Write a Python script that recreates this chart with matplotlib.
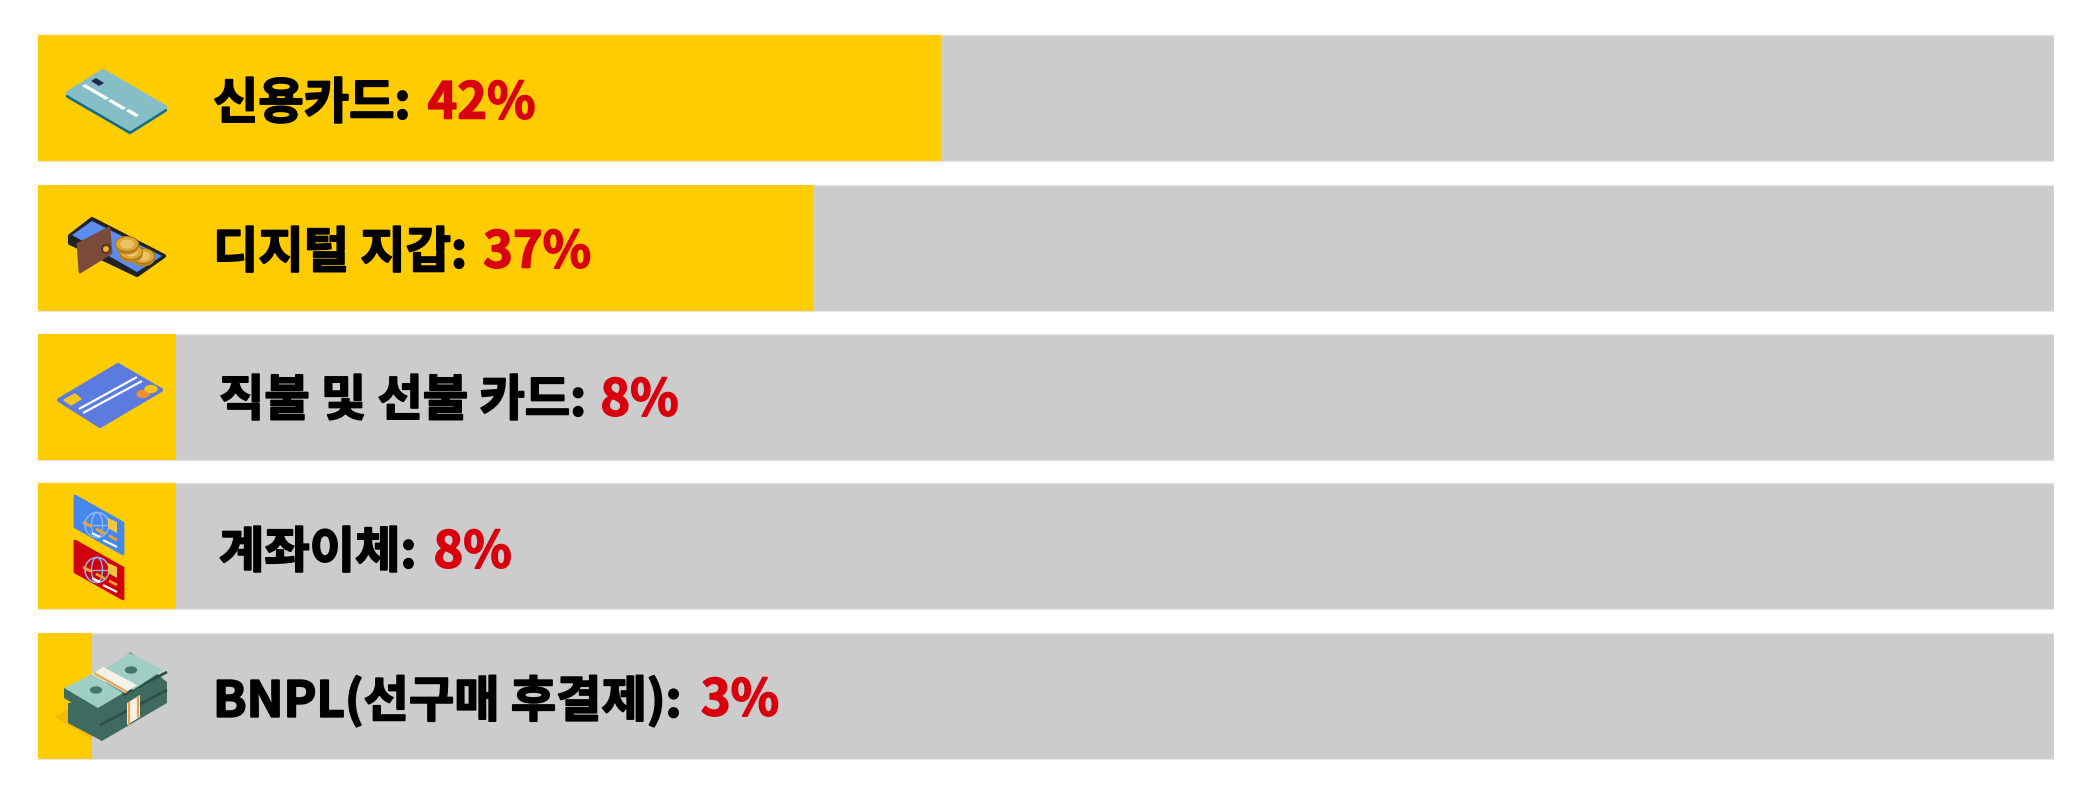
import matplotlib
matplotlib.use("Agg")
import matplotlib.pyplot as plt
import matplotlib.patheffects as pe
from matplotlib.patches import Polygon, Circle, Ellipse

plt.rcParams['font.family'] = ['Noto Sans CJK KR', 'DejaVu Sans']

categories = ["신용카드", "디지털 지갑", "직불 및 선불 카드", "계좌이체", "BNPL(선구매 후결제)"]
shares = [42, 37, 8, 8, 3]
# yellow lengths as drawn, they are not quite proportional to the labels
bar_lengths = [44.8, 38.45, 6.85, 6.85, 2.7]

W, H = 2091, 791
YELLOW = "#ffcc00"
GREY = "#cccccc"
RED = "#d9000d"

fig = plt.figure(figsize=(W / 100, H / 100), dpi=100)

# bars
ax = fig.add_axes([38 / W, 1 - 770.5 / H, (2054 - 38) / W, (770.5 - 23.5) / H])
rows = list(range(len(categories)))
ax.barh(rows, [100] * 5, height=0.843, color=GREY, edgecolor="#e6e6e6", linewidth=1)
ax.barh(rows, bar_lengths, height=0.843, color=YELLOW)
ax.set_xlim(0, 100)
ax.set_ylim(4.5, -0.5)
ax.axis("off")

# overlay in pixels for the labels and the icons
ov = fig.add_axes([0, 0, 1, 1])
ov.set_xlim(0, W)
ov.set_ylim(H, 0)
ov.axis("off")
ov.patch.set_alpha(0)

label_x = [213, 213, 219, 219, 213]
label_y = [104, 253, 401, 553, 701]
value_gap = [17, 16, 14, 17, 19]
renderer = fig.canvas.get_renderer()
for name, val, x, y, gap in zip(categories, shares, label_x, label_y, value_gap):
    t = ov.text(x, y, name + ":", fontsize=35.5, fontweight="bold", color="black",
                ha="left", va="center")
    t.set_path_effects([pe.withStroke(linewidth=1.3, foreground="black")])
    bb = t.get_window_extent(renderer)
    v = ov.text(bb.x1 + gap, y, f"{val}%", fontsize=36.3, fontweight="bold", color=RED,
                ha="left", va="center")
    v.set_path_effects([pe.withStroke(linewidth=1.1, foreground=RED)])


def poly(pts, color, z=3, round_px=0):
    ov.add_patch(Polygon(pts, closed=True, facecolor=color, edgecolor=color if round_px else "none",
                         linewidth=round_px, joinstyle="round", zorder=z))


def line(x0, y0, x1, y1, color, lw=2, z=4, ls="-"):
    ov.plot([x0, x1], [y0, y1], color=color, lw=lw, zorder=z, ls=ls, solid_capstyle="butt")


def coin(cx, cy, z):
    ov.add_patch(Ellipse((cx, cy + 3), 23, 15, facecolor="#b8862a", zorder=z))
    ov.add_patch(Ellipse((cx, cy), 23, 15, facecolor="#dfa92f", edgecolor="#a8741a", lw=0.8, zorder=z))
    ov.add_patch(Ellipse((cx, cy), 14, 9, facecolor="#eac36a", zorder=z))


# credit card
poly([(68, 96), (103, 74), (165, 110), (130, 132)], "#0f6e8c", 3, 3)
poly([(68, 93), (103, 71), (165, 107), (130, 129)], "#86bec8", 3, 3)
poly([(91, 81), (96, 78), (104, 83), (99, 86)], "#1d2a4d", 4)
poly([(82, 86), (85, 84), (109, 98), (106, 100)], "white", 4)
poly([(108, 101), (111, 99), (126, 108), (123, 110)], "white", 4)
poly([(126, 111), (129, 109), (139, 115), (136, 117)], "white", 4)

# wallet and phone
poly([(70, 236), (92, 219), (164, 256), (137, 275), (70, 243)], "#222222", 3, 3)
poly([(72, 235), (92, 221), (162, 256), (137, 272)], "#5b8cf0", 4)
poly([(78, 244), (109, 228), (111, 253), (80, 272)], "#7a4a3a", 5, 2)
ov.add_patch(Circle((106, 249), 4, facecolor="#f0b429", edgecolor="#5a3526", lw=1.5, zorder=6))
coin(143, 256, 7)
coin(131, 252, 8)
coin(127, 244, 9)

# debit card
poly([(59, 400), (118, 365), (161, 390), (100, 426)], "#5b7be0", 3, 3)
line(79, 409, 137, 377, "white", 1.6)
line(83, 413, 142, 381, "white", 1.6)
poly([(64, 400), (75, 394), (81, 399), (71, 405)], "#f5c518", 4, 1)
ov.add_patch(Ellipse((143, 394), 12, 7, color="#e8912d", zorder=4))
ov.add_patch(Ellipse((151, 389), 12, 7, color="#f5c518", zorder=4))

# bank transfer cards
for dy, col in [(0, "#4488ee"), (45, "#d0000f")]:
    poly([(75, 496 + dy), (123, 523 + dy), (123, 554 + dy), (75, 527 + dy)], col, 3, 2)
    ov.add_patch(Ellipse((97, 525 + dy), 24, 25, facecolor="none", edgecolor="#8fb4ee", lw=1.1, zorder=4))
    ov.add_patch(Ellipse((97, 525 + dy), 11, 25, facecolor="none", edgecolor="#8fb4ee", lw=1.0, zorder=4))
    line(85, 525 + dy, 109, 525 + dy, "#8fb4ee", 1.0)
    poly([(108, 518 + dy), (117, 522 + dy), (117, 533 + dy), (108, 528 + dy)], "#f5c542", 5)
    line(83, 522 + dy, 117, 540 + dy, "#f0a030", 2, 4, "--")
    line(92, 533 + dy, 100, 537 + dy, "white", 1.5, 5)
    line(103, 540 + dy, 117, 547 + dy, "white", 1.5, 5)

# cash stack
poly([(55, 717), (92, 695), (92, 739)], "#f0bb00", 2)
poly([(92, 700), (130, 652), (167, 682), (167, 703), (102, 741), (68, 723), (68, 703)], "#3f6a60", 3)
line(100, 725, 167, 690, "#2f5048", 2, 4)
line(98, 708, 167, 672, "#2f5048", 2, 4)
poly([(100, 672), (130, 653), (163, 670), (133, 690)], "#9fcfc4", 4)
ov.add_patch(Ellipse((131, 670), 11, 6, color="#48746a", zorder=5))
poly([(64, 688), (64, 698), (98, 718), (123, 703), (123, 693)], "#3f6a60", 5)
poly([(64, 688), (92, 674), (123, 693), (98, 708)], "#9fcfc4", 6)
ov.add_patch(Ellipse((96, 690), 11, 6, color="#48746a", zorder=7))
poly([(92, 674), (103, 667), (137, 685), (125, 693)], "#f4f2e8", 8)
line(94, 673, 127, 692, "#eda04d", 1.6, 9)
poly([(127, 703), (140, 695), (140, 717), (127, 725)], "#f4f2e8", 8)
line(129, 702, 129, 725, "#eda04d", 1.6, 9)
line(138, 696, 138, 718, "#eda04d", 1.6, 9)

fig.savefig("out.png", dpi=100, facecolor="white")
